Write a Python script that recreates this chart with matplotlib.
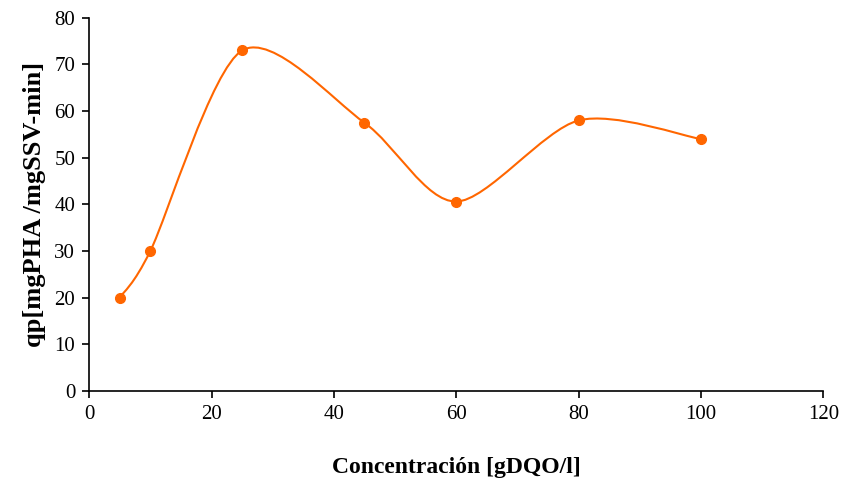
import numpy as np
import matplotlib.pyplot as plt
from matplotlib.path import Path
from matplotlib.patches import PathPatch

# Datos
concentracion = [5, 10, 25, 45, 60, 80, 100]
qp = [20, 30, 73, 57.5, 40.6, 58, 54]

color = '#FF6600'
plt.rcParams['font.family'] = ['Liberation Serif', 'DejaVu Serif']

fig = plt.figure(figsize=(8.41, 4.82), dpi=100)
ax = fig.add_axes([0.106, 0.189, 0.873, 0.774])

# Linea suavizada (Bezier tipo Catmull-Rom, como Excel)
pts = np.column_stack([concentracion, qp]).astype(float)
ext = np.vstack([pts[0], pts, pts[-1]])
verts = [tuple(pts[0])]
codes = [Path.MOVETO]
for i in range(1, len(ext) - 2):
    p0, p1, p2, p3 = ext[i - 1], ext[i], ext[i + 1], ext[i + 2]
    c1 = p1 + (p2 - p0) / 7
    c2 = p2 - (p3 - p1) / 7
    verts += [tuple(c1), tuple(c2), tuple(p2)]
    codes += [Path.CURVE4] * 3
ax.add_patch(PathPatch(Path(verts, codes), fill=False, edgecolor=color, lw=1.5))
ax.plot(concentracion, qp, 'o', color=color, ms=7, zorder=3)

ax.set_xlim(0, 120)
ax.set_ylim(0, 80)
ax.set_xticks(range(0, 121, 20))
ax.set_yticks(range(0, 81, 10))
ax.spines['top'].set_visible(False)
ax.spines['right'].set_visible(False)
for s in ['left', 'bottom']:
    ax.spines[s].set_linewidth(1.2)
ax.tick_params(direction='out', length=5, width=1.2, labelsize=15, pad=5)
ax.set_xlabel('Concentración [gDQO/l]', fontsize=17, fontweight='bold', labelpad=24)
ax.set_ylabel('qp[mgPHA /mgSSV-min]', fontsize=19, fontweight='bold', labelpad=6)

fig.savefig('out.png', dpi=100)
